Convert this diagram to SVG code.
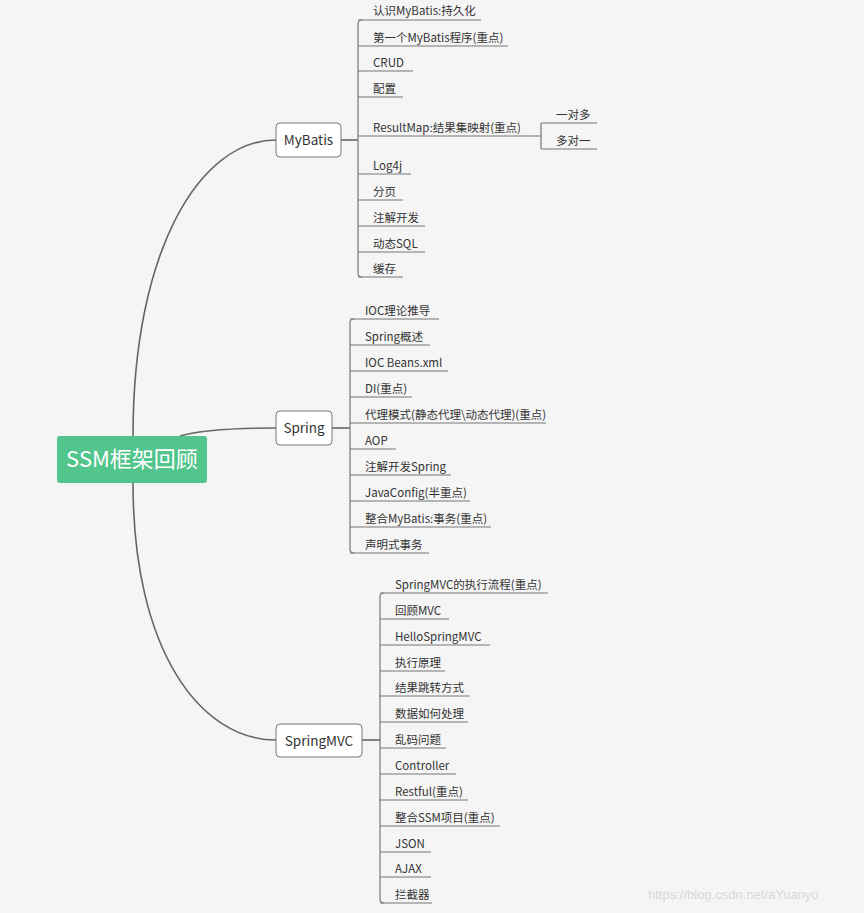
<svg xmlns="http://www.w3.org/2000/svg" width="864" height="913" viewBox="0 0 864 913">
<style>
.t{font-family:"Microsoft YaHei","Noto Sans CJK SC",sans-serif;font-size:11.5px;fill:#333}
.c{fill:none;stroke:#777;stroke-width:1.2}
.b{fill:none;stroke:#666;stroke-width:1.6}
.n{fill:#fff;stroke:#777;stroke-width:1}
.nt{font-family:"Microsoft YaHei","Noto Sans CJK SC",sans-serif;font-size:13.5px;fill:#333;text-anchor:middle}
</style>
<rect width="864" height="913" fill="#f5f5f5"/>
<g id="connectors">
<path class="b" d="M133,436 C133,250 200,140 276,140"/>
<path class="b" d="M180,436 C200,430 230,428 276,428"/>
<path class="b" d="M133,483 C133,650 200,740 276,740"/>
<path class="b" d="M341,140 H358"/>
<path class="b" d="M332,428 H350"/>
<path class="b" d="M362,740 H380"/>
<path class="c" d="M362,20 Q358,20 358,24 V273 Q358,277 362,277"/>
<path class="c" d="M358,20 H481 M358,46 H508 M358,71 H413 M358,97 H403 M358,136 H541 M358,174 H411 M358,200 H403 M358,226 H425 M358,252 H425 M358,277 H403"/>
<path class="c" d="M541,123 V149 M541,123 H597 M541,149 H597"/>
<path class="c" d="M354,319 Q350,319 350,323 V549 Q350,553 354,553"/>
<path class="c" d="M350,319 H439 M350,345 H430 M350,371 H448 M350,397 H412 M350,423 H546 M350,449 H396 M350,475 H451 M350,501 H470 M350,527 H491 M350,553 H429"/>
<path class="c" d="M384,593 Q380,593 380,597 V899 Q380,903 384,903"/>
<path class="c" d="M380,593 H548 M380,619 H449 M380,645 H490 M380,671 H445 M380,696 H470 M380,722 H468 M380,748 H446 M380,774 H456 M380,800 H468 M380,826 H500 M380,852 H431 M380,877 H431 M380,903 H432"/>
</g>
<g id="root"><rect x="57" y="436" width="150" height="47" rx="3" fill="#52c58d"/><text x="132" y="467" font-family="Microsoft YaHei,Noto Sans CJK SC,sans-serif" font-size="22" fill="#fff" text-anchor="middle">SSM框架回顾</text></g>
<g id="mybatis"><rect class="n" x="276" y="123" width="65" height="34" rx="4"/><text class="nt" x="308.5" y="145">MyBatis</text></g>
<g id="spring"><rect class="n" x="276" y="411" width="56" height="34" rx="4"/><text class="nt" x="304" y="433">Spring</text></g>
<g id="springmvc"><rect class="n" x="276" y="724" width="86" height="33" rx="4"/><text class="nt" x="319" y="746">SpringMVC</text></g>
<g id="mybatis-children">
<text class="t" x="373" y="15">认识MyBatis:持久化</text>
<text class="t" x="373" y="42">第一个MyBatis程序(重点)</text>
<text class="t" x="373" y="67">CRUD</text>
<text class="t" x="373" y="93">配置</text>
<text class="t" x="373" y="132">ResultMap:结果集映射(重点)</text>
<text class="t" x="556" y="119">一对多</text>
<text class="t" x="556" y="145">多对一</text>
<text class="t" x="373" y="170">Log4j</text>
<text class="t" x="373" y="196">分页</text>
<text class="t" x="373" y="222">注解开发</text>
<text class="t" x="373" y="248">动态SQL</text>
<text class="t" x="373" y="273">缓存</text>
</g>
<g id="spring-children">
<text class="t" x="365" y="315">IOC理论推导</text>
<text class="t" x="365" y="341">Spring概述</text>
<text class="t" x="365" y="367">IOC Beans.xml</text>
<text class="t" x="365" y="393">DI(重点)</text>
<text class="t" x="365" y="419">代理模式(静态代理\动态代理)(重点)</text>
<text class="t" x="365" y="445">AOP</text>
<text class="t" x="365" y="471">注解开发Spring</text>
<text class="t" x="365" y="497">JavaConfig(半重点)</text>
<text class="t" x="365" y="523">整合MyBatis:事务(重点)</text>
<text class="t" x="365" y="549">声明式事务</text>
</g>
<g id="springmvc-children">
<text class="t" x="395" y="589">SpringMVC的执行流程(重点)</text>
<text class="t" x="395" y="615">回顾MVC</text>
<text class="t" x="395" y="641">HelloSpringMVC</text>
<text class="t" x="395" y="667">执行原理</text>
<text class="t" x="395" y="692">结果跳转方式</text>
<text class="t" x="395" y="718">数据如何处理</text>
<text class="t" x="395" y="744">乱码问题</text>
<text class="t" x="395" y="770">Controller</text>
<text class="t" x="395" y="796">Restful(重点)</text>
<text class="t" x="395" y="822">整合SSM项目(重点)</text>
<text class="t" x="395" y="848">JSON</text>
<text class="t" x="395" y="873">AJAX</text>
<text class="t" x="395" y="899">拦截器</text>
</g>
<text x="648" y="899" font-family="Liberation Sans,sans-serif" font-size="13" fill="#d8d8d8">https://blog.csdn.net/aYuanyo</text>
</svg>
